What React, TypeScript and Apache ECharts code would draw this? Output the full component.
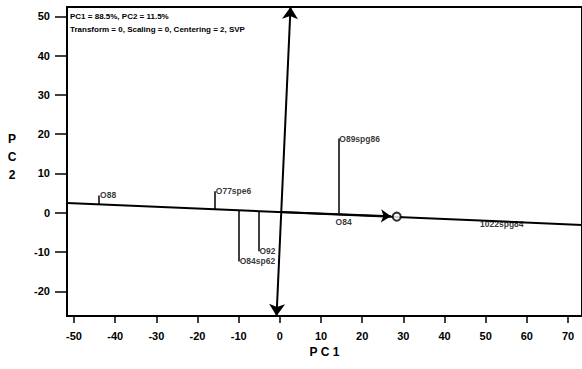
import React, { useEffect, useRef } from "react";
import * as echarts from "echarts";

// Axis ranges and tick labels
const pc1Range = [-51.7, 73.4];
const pc2Range = [-26.3, 52.4];
const pc1Ticks = [-50, -40, -30, -20, -10, 0, 10, 20, 30, 40, 50, 60, 70];
const pc2Ticks = [-20, -10, 0, 10, 20, 30, 40, 50];

// Near-horizontal variable line (PC1 direction)
const varLineX = [-51.7, 73.4];
const varLineY = [2.5, -3.1];

// Variable arrows
const pc1ArrowStart = [0, 0.2];
const pc1ArrowEnd = [27.0, -0.9];
const pc1Circle = [28.4, -1.0];
const pc2ArrowStart = [-0.8, -26.3];
const pc2ArrowEnd = [2.6, 52.4];

// Observations with leader lines
const leaderNames = ["O88", "O77spe6", "O84sp62", "O92", "O89spg86"];
const leaderX = [-43.9, -15.8, -10.0, -5.2, 14.2];
const leaderBaseY = [2.1, 0.9, 0.6, 0.4, -0.1];
const leaderLabelY = [4.4, 5.5, -12.4, -9.8, 18.9];

// Observations without leader lines
const plainNames = ["O84", "1022spg84"];
const plainX = [13.3, 48.4];
const plainY = [-2.4, -2.9];

const headerLines = [
  "PC1 = 88.5%, PC2 = 11.5%",
  "Transform = 0, Scaling = 0, Centering = 2, SVP",
];

export default function App() {
  const ref = useRef<HTMLDivElement>(null);
  useEffect(() => {
    if (!ref.current) return;
    const chart = echarts.init(ref.current, undefined, { renderer: "svg" });
    const black = "#000";
    const font = "Liberation Sans, Arial, sans-serif";
    const leaderData = leaderX.map((x, i) => ({
      coords: [
        [x, leaderBaseY[i]],
        [x, leaderLabelY[i]],
      ],
    }));
    const labelData = [
      ...leaderNames.map((n, i) => ({ name: n, value: [leaderX[i], leaderLabelY[i]] })),
      ...plainNames.map((n, i) => ({ name: n, value: [plainX[i], plainY[i]] })),
    ];
    chart.setOption({
      animation: false,
      backgroundColor: "#fff",
      grid: {
        left: 67,
        top: 7,
        right: -1,
        bottom: 53,
        show: true,
        borderColor: black,
        borderWidth: 2,
      },
      xAxis: {
        type: "value",
        min: pc1Range[0],
        max: pc1Range[1],
        name: "P C 1",
        nameLocation: "middle",
        nameGap: 24,
        nameTextStyle: { color: black, fontSize: 12, fontWeight: "bold", fontFamily: font },
        axisLine: { show: true, onZero: false, lineStyle: { color: black, width: 2 } },
        axisTick: { show: true, length: 7, lineStyle: { color: black, width: 1.5 }, customValues: pc1Ticks },
        axisLabel: {
          color: black,
          fontSize: 11,
          fontWeight: "bold",
          fontFamily: font,
          margin: 14,
          customValues: pc1Ticks,
        },
        splitLine: { show: false },
      },
      yAxis: {
        type: "value",
        min: pc2Range[0],
        max: pc2Range[1],
        axisLine: { show: true, onZero: false, lineStyle: { color: black, width: 2 } },
        axisTick: { show: true, length: 12, lineStyle: { color: black, width: 1.5 }, customValues: pc2Ticks },
        axisLabel: {
          color: black,
          fontSize: 11,
          fontWeight: "bold",
          fontFamily: font,
          margin: 17,
          customValues: pc2Ticks,
        },
        splitLine: { show: false },
      },
      graphic: [
        {
          type: "text",
          x: 12,
          y: 130,
          style: {
            text: "P\nC\n2",
            fill: black,
            font: `bold 12px ${font}`,
            textAlign: "center",
            textVerticalAlign: "top",
            lineHeight: 18,
          },
        },
        {
          type: "text",
          x: 70,
          y: 10,
          style: {
            text: headerLines.join("\n"),
            fill: black,
            font: `bold 8px ${font}`,
            textAlign: "left",
            textVerticalAlign: "top",
            lineHeight: 13,
          },
        },
      ],
      series: [
        {
          type: "line",
          data: varLineX.map((x, i) => [x, varLineY[i]]),
          symbol: "none",
          lineStyle: { color: black, width: 2 },
          silent: true,
        },
        {
          type: "lines",
          coordinateSystem: "cartesian2d",
          data: [{ coords: [pc2ArrowStart, pc2ArrowEnd] }],
          symbol: ["arrow", "arrow"],
          symbolSize: 12,
          lineStyle: { color: black, width: 2, opacity: 1 },
          silent: true,
        },
        {
          type: "lines",
          coordinateSystem: "cartesian2d",
          data: [{ coords: [pc1ArrowStart, pc1ArrowEnd] }],
          symbol: ["none", "arrow"],
          symbolSize: 10,
          lineStyle: { color: black, width: 2, opacity: 1 },
          silent: true,
        },
        {
          type: "scatter",
          data: [pc1Circle],
          symbol: "emptyCircle",
          symbolSize: 8,
          itemStyle: { color: black, borderColor: black, borderWidth: 1.5 },
          z: 5,
          silent: true,
        },
        {
          type: "lines",
          coordinateSystem: "cartesian2d",
          data: leaderData,
          symbol: ["none", "none"],
          lineStyle: { color: black, width: 1.5, opacity: 1 },
          silent: true,
        },
        {
          type: "scatter",
          data: labelData,
          symbolSize: 0,
          silent: true,
          label: {
            show: true,
            position: "right",
            distance: 1,
            formatter: "{b}",
            color: black,
            fontSize: 8.5,
            fontWeight: "bold",
            fontFamily: font,
          },
        },
      ],
    });
    return () => chart.dispose();
  }, []);
  return (
    <div
      ref={ref}
      style={{ position: "fixed", left: 0, top: 0, width: 582, height: 369, background: "#fff" }}
    />
  );
}
